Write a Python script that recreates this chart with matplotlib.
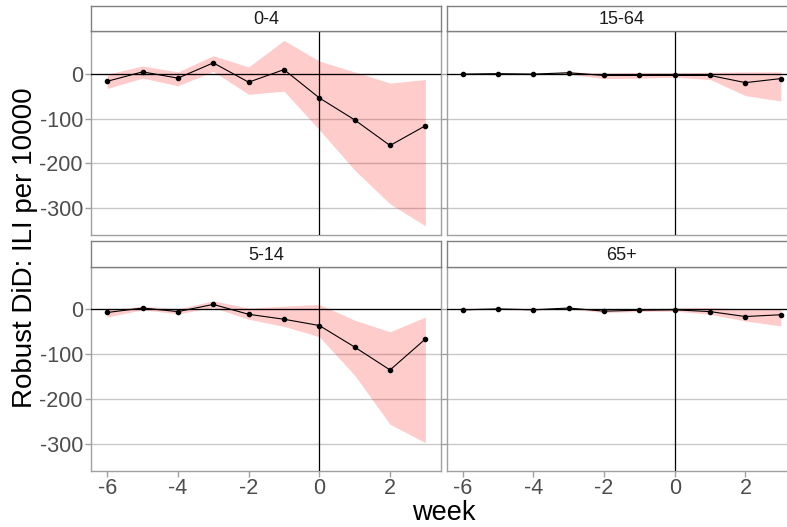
import numpy as np
import matplotlib
matplotlib.use('Agg')
from matplotlib import pyplot as plt

plt.rcParams['font.family'] = ['Liberation Sans', 'DejaVu Sans']
plt.rcParams['axes.unicode_minus'] = False  # plain hyphen like ggplot

# weeks relative to the intervention
weeks = [-6, -5, -4, -3, -2, -1, 0, 1, 2, 3]

# estimate, lower and upper bound per age group
est_0_4 = [-17, 4, -10, 24, -19, 9, -54, -103, -160, -116]
lo_0_4 = [-33, -10, -27, 5, -46, -39, -125, -215, -290, -339]
hi_0_4 = [-1, 17, 4, 40, 15, 74, 28, 4, -21, -13]

est_15_64 = [-1, 0, -1, 2, -4, -4, -4, -4, -20, -11]
lo_15_64 = [-2, -1, -2, -1, -11, -10, -8, -13, -49, -61]
hi_15_64 = [0, 1, 0, 4, 1, 2, 2, 3, 4, 4]

est_5_14 = [-7, 3, -5, 11, -11, -22, -36, -84, -135, -66]
lo_5_14 = [-17, -1, -10, 4, -22, -38, -61, -147, -256, -297]
hi_5_14 = [-1, 7, 1, 19, 3, 7, 11, -24, -50, -17]

est_65 = [-1, 1, -1, 3, -4, -2, -1, -5, -16, -12]
lo_65 = [-2, 0, -2, 1, -7, -5, -4, -11, -26, -37]
hi_65 = [0, 2, 0, 4, -1, 1, 3, 4, 1, 1]

groups = ['0-4', '15-64', '5-14', '65+']
estimates = [est_0_4, est_15_64, est_5_14, est_65]
lowers = [lo_0_4, lo_15_64, lo_5_14, lo_65]
uppers = [hi_0_4, hi_15_64, hi_5_14, hi_65]

W, H = 787, 527
fig = plt.figure(figsize=(W / 100, H / 100), dpi=100)

panel_w = 350
panel_h = 204.3
strip_h = 25.5
lefts = [91.3, 446.7]
tops = [31.0, 266.7]  # top of each panel (pixels from top)

tick_col = '#4D4D4D'
border_col = '#A0A0A0'

for i, g in enumerate(groups):
    row, col = i // 2, i % 2
    x0 = lefts[col]
    y_top = tops[row]
    ax = fig.add_axes([x0 / W, 1 - (y_top + panel_h) / H, panel_w / W, panel_h / H])
    ax.fill_between(weeks, lowers[i], uppers[i], color='#FF0000', alpha=0.2,
                    linewidth=0)
    ax.axhline(0, color='black', lw=0.9, zorder=3)
    ax.axvline(0, color='black', lw=0.9, zorder=3)
    ax.plot(weeks, estimates[i], color='black', lw=0.8, zorder=4)
    ax.scatter(weeks, estimates[i], color='black', s=9, zorder=5)
    ax.set_xlim(-6.45, 3.45)
    ax.set_ylim(-360, 95)
    ax.set_yticks([-300, -200, -100, 0])
    ax.set_xticks([-6, -4, -2, 0, 2])
    ax.grid(True, axis='y', color='#C8C8C8', lw=1.0)
    ax.set_axisbelow(True)
    for s in ax.spines.values():
        s.set_color(border_col)
        s.set_linewidth(1.0)
    ax.tick_params(axis='both', colors=border_col, labelcolor=tick_col,
                   labelsize=15.5, length=4, width=1, pad=2)
    if col == 1:
        ax.tick_params(axis='y', labelleft=False)
    if row == 0:
        ax.tick_params(axis='x', length=0, labelbottom=False)
    else:
        ax.tick_params(axis='x', pad=1)

    # strip with the group name
    sax = fig.add_axes([x0 / W, 1 - y_top / H, panel_w / W, strip_h / H])
    sax.set_xticks([])
    sax.set_yticks([])
    for s in sax.spines.values():
        s.set_color('#808080')
        s.set_linewidth(1.0)
    sax.text(0.5, 0.45, g, ha='center', va='center', fontsize=13, color='#1A1A1A')

fig.text(444 / W, 1 - 520 / H, 'week', ha='center', va='baseline', fontsize=19.5)
fig.text(25 / W, 1 - 248 / H, 'Robust DiD: ILI per 10000', ha='center', va='center',
         rotation=90, fontsize=20)

plt.savefig('out.png', dpi=100, facecolor='white')
